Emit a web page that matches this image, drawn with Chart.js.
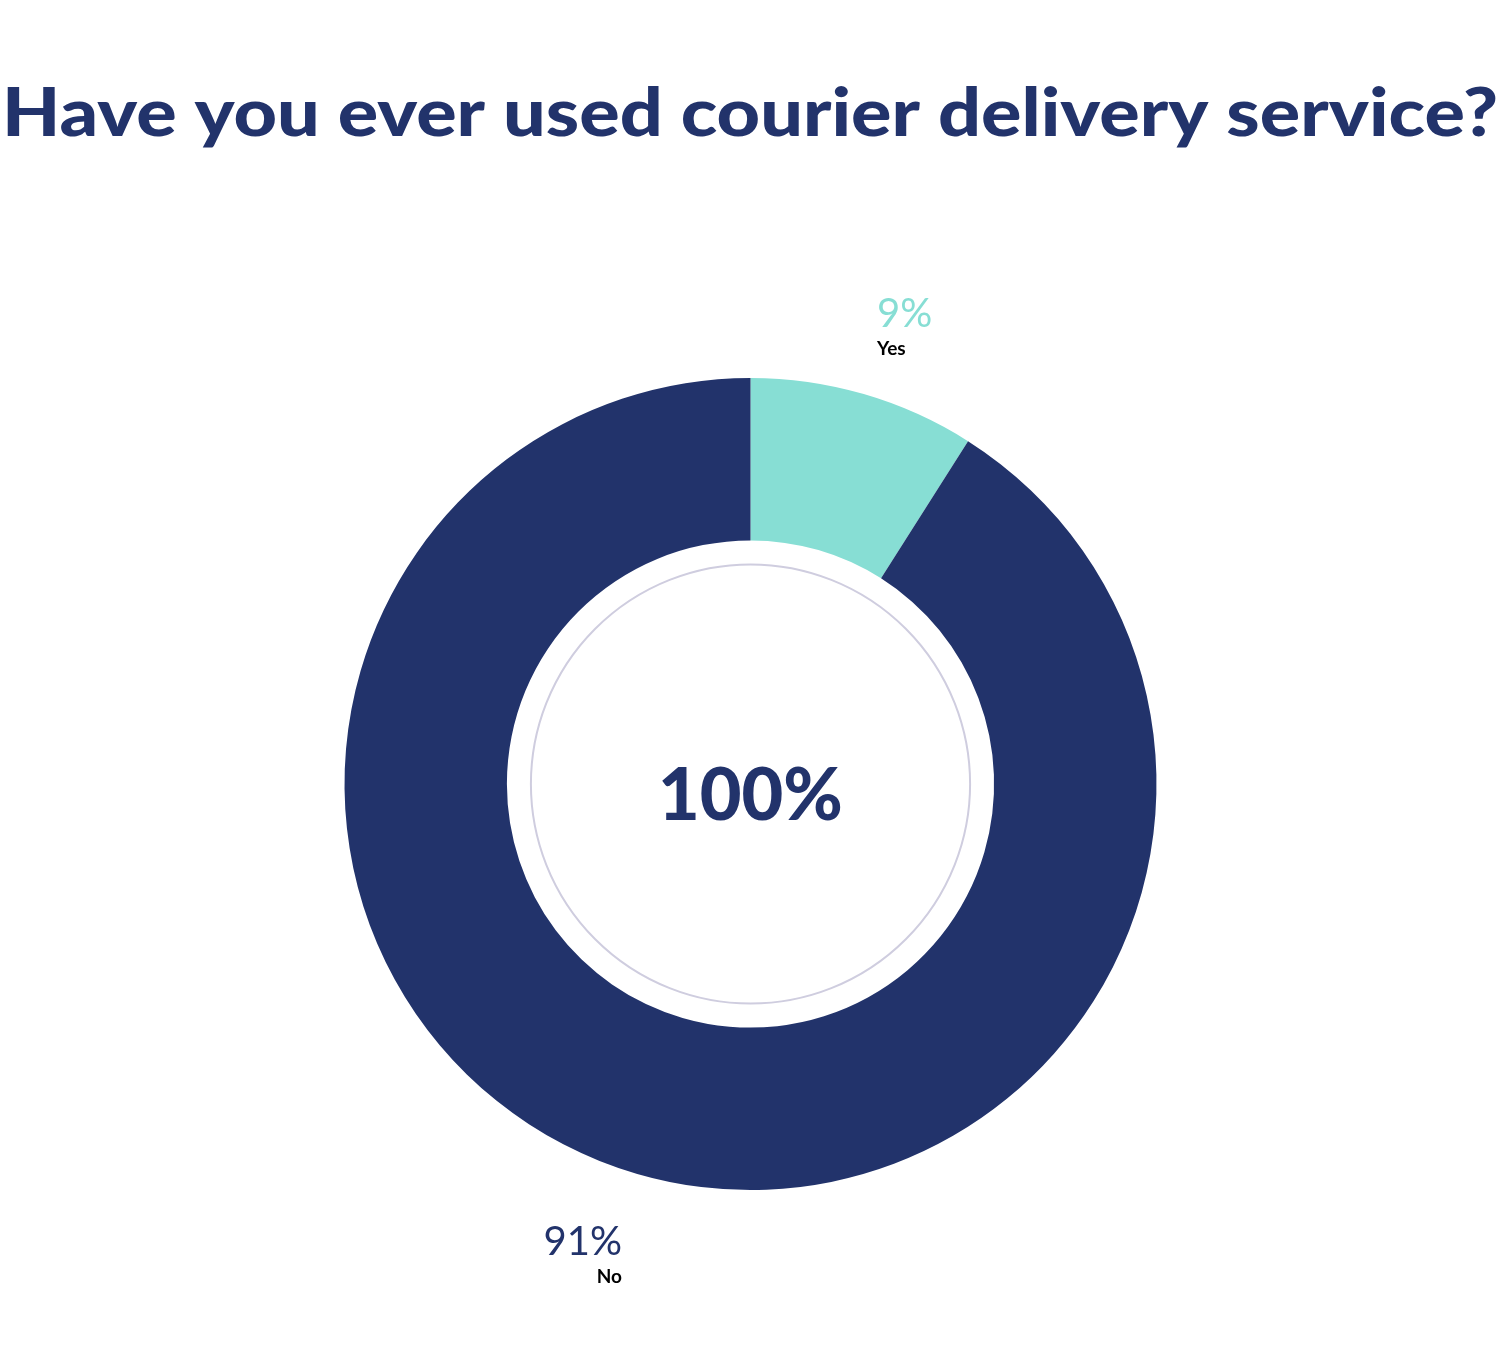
<!DOCTYPE html>
<html>
<head>
<meta charset="utf-8">
<script src="https://cdn.jsdelivr.net/npm/chart.js@4"></script>
<style>
  html, body { margin: 0; padding: 0; background: #fff; }
  #wrap { width: 1501px; height: 1364px; }
</style>
</head>
<body>
<div id="wrap"><canvas id="donut"></canvas></div>
<script>
const title = 'Have you ever used courier delivery service?'
const labels = ['Yes', 'No']
const values = [9, 91]
const centerText = '100%'

const navy = '#22336b'
const teal = '#87ded4'
const colors = [teal, navy]

const ctx = document.getElementById('donut')

// title, center text, inner ring and outside labels
const extras = {
    id: 'extras',
    afterDraw(chart) {
        const c = chart.ctx
        const meta = chart.getDatasetMeta(0)
        const arc0 = meta.data[0]
        const cx = arc0.x, cy = arc0.y
        const outer = arc0.outerRadius, inner = arc0.innerRadius

        c.save()
        // title, stretched to span the page like the original
        c.fillStyle = navy
        c.textAlign = 'center'
        c.textBaseline = 'alphabetic'
        c.font = '900 66px Lato, "DejaVu Sans", sans-serif'
        const w = c.measureText(title).width
        const targetW = 1496
        c.translate(750, 136)
        c.scale(targetW / w, 1)
        c.fillText(title, 0, 0)
        c.setTransform(1, 0, 0, 1, 0, 0)

        // thin ring inside the hole
        c.beginPath()
        c.arc(cx, cy, inner - 24, 0, Math.PI * 2)
        c.strokeStyle = '#cfcddf'
        c.lineWidth = 2
        c.stroke()

        // center total
        c.fillStyle = navy
        c.font = '900 72px Lato, "DejaVu Sans", sans-serif'
        c.textAlign = 'center'
        c.fillText(centerText, cx, cy + 36)

        // outside labels
        const total = values.reduce((a, b) => a + b, 0)
        meta.data.forEach((arc, i) => {
            const mid = (arc.startAngle + arc.endAngle) / 2
            const r = outer + 44
            const ax = cx + Math.cos(mid) * r
            const ay = cy + Math.sin(mid) * r
            const right = Math.cos(mid) >= 0
            const top = Math.sin(mid) < 0
            c.textAlign = right ? 'left' : 'right'
            const tx = right ? ax + 1 : ax - 3
            const pct = Math.round(values[i] / total * 100) + '%'
            let pctY, nameY
            if (top) {
                nameY = ay + 3
                pctY = nameY - 28
            } else {
                pctY = ay + 39
                nameY = pctY + 28
            }
            c.fillStyle = colors[i]
            c.font = '400 40px Lato, "Open Sans", sans-serif'
            c.fillText(pct, tx, pctY)
            c.fillStyle = '#000'
            c.font = 'bold 19px Lato, "DejaVu Sans", sans-serif'
            c.fillText(labels[i], tx, nameY)
        })
        c.restore()
    }
}

const donutChart = new Chart(ctx, {
    type: 'doughnut',
    data: {
        labels: labels,
        datasets: [{
            data: values,
            backgroundColor: colors,
            borderWidth: 0
        }]
    },
    options: {
        responsive: true,
        maintainAspectRatio: false,
        animation: false,
        cutout: '60%',
        layout: {
            padding: { top: 378, bottom: 174, left: 344, right: 344 }
        },
        plugins: {
            legend: { display: false },
            tooltip: { enabled: false }
        }
    },
    plugins: [extras]
});
</script>
</body>
</html>
